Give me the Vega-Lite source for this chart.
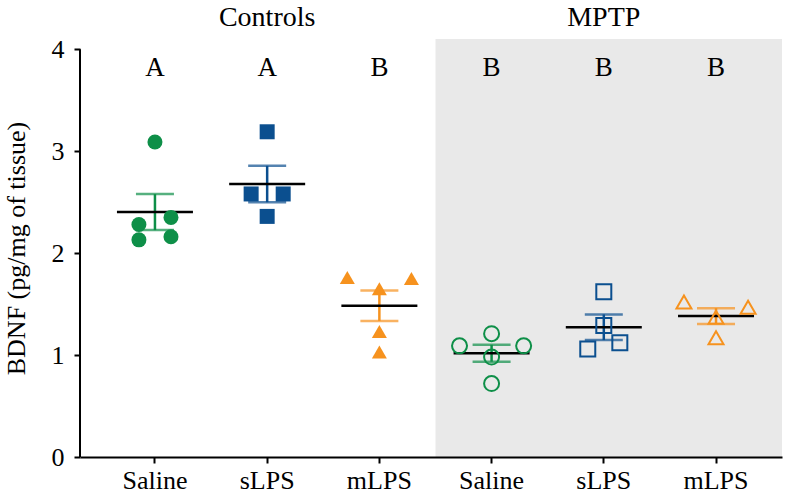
{
  "$schema": "https://vega.github.io/schema/vega-lite/v6.json",
  "width": 702,
  "height": 418,
  "autosize": {"type": "none"},
  "padding": {"left": 80, "top": 39, "right": 10, "bottom": 41},
  "background": "white",
  "config": {
    "view": {"stroke": null},
    "font": "Liberation Serif",
    "axis": {"labelFont": "Liberation Serif", "titleFont": "Liberation Serif", "labelColor": "black", "titleColor": "black", "grid": false}
  },
  "datasets": {
    "points": [
      {"grp": "Controls Saline", "group": "Controls", "treatment": "Saline", "lane": "C", "bdnf": 3.09},
      {"grp": "Controls Saline", "group": "Controls", "treatment": "Saline", "lane": "R1", "bdnf": 2.35},
      {"grp": "Controls Saline", "group": "Controls", "treatment": "Saline", "lane": "L1", "bdnf": 2.28},
      {"grp": "Controls Saline", "group": "Controls", "treatment": "Saline", "lane": "R1", "bdnf": 2.16},
      {"grp": "Controls Saline", "group": "Controls", "treatment": "Saline", "lane": "L1", "bdnf": 2.13},
      {"grp": "Controls sLPS", "group": "Controls", "treatment": "sLPS", "lane": "C", "bdnf": 3.19},
      {"grp": "Controls sLPS", "group": "Controls", "treatment": "sLPS", "lane": "L1", "bdnf": 2.58},
      {"grp": "Controls sLPS", "group": "Controls", "treatment": "sLPS", "lane": "R1", "bdnf": 2.58},
      {"grp": "Controls sLPS", "group": "Controls", "treatment": "sLPS", "lane": "C", "bdnf": 2.36},
      {"grp": "Controls mLPS", "group": "Controls", "treatment": "mLPS", "lane": "L2", "bdnf": 1.76},
      {"grp": "Controls mLPS", "group": "Controls", "treatment": "mLPS", "lane": "R2", "bdnf": 1.75},
      {"grp": "Controls mLPS", "group": "Controls", "treatment": "mLPS", "lane": "C", "bdnf": 1.65},
      {"grp": "Controls mLPS", "group": "Controls", "treatment": "mLPS", "lane": "C", "bdnf": 1.23},
      {"grp": "Controls mLPS", "group": "Controls", "treatment": "mLPS", "lane": "C", "bdnf": 1.03},
      {"grp": "MPTP Saline", "group": "MPTP", "treatment": "Saline", "lane": "L2", "bdnf": 1.09},
      {"grp": "MPTP Saline", "group": "MPTP", "treatment": "Saline", "lane": "C", "bdnf": 1.21},
      {"grp": "MPTP Saline", "group": "MPTP", "treatment": "Saline", "lane": "R2", "bdnf": 1.09},
      {"grp": "MPTP Saline", "group": "MPTP", "treatment": "Saline", "lane": "C", "bdnf": 0.98},
      {"grp": "MPTP Saline", "group": "MPTP", "treatment": "Saline", "lane": "C", "bdnf": 0.72},
      {"grp": "MPTP sLPS", "group": "MPTP", "treatment": "sLPS", "lane": "C", "bdnf": 1.62},
      {"grp": "MPTP sLPS", "group": "MPTP", "treatment": "sLPS", "lane": "C", "bdnf": 1.29},
      {"grp": "MPTP sLPS", "group": "MPTP", "treatment": "sLPS", "lane": "L1", "bdnf": 1.06},
      {"grp": "MPTP sLPS", "group": "MPTP", "treatment": "sLPS", "lane": "R1", "bdnf": 1.12},
      {"grp": "MPTP mLPS", "group": "MPTP", "treatment": "mLPS", "lane": "L2", "bdnf": 1.52},
      {"grp": "MPTP mLPS", "group": "MPTP", "treatment": "mLPS", "lane": "R2", "bdnf": 1.47},
      {"grp": "MPTP mLPS", "group": "MPTP", "treatment": "mLPS", "lane": "C", "bdnf": 1.37},
      {"grp": "MPTP mLPS", "group": "MPTP", "treatment": "mLPS", "lane": "C", "bdnf": 1.17}
    ],
    "letters": [
      {"grp": "Controls Saline", "letter": "A"},
      {"grp": "Controls sLPS", "letter": "A"},
      {"grp": "Controls mLPS", "letter": "B"},
      {"grp": "MPTP Saline", "letter": "B"},
      {"grp": "MPTP sLPS", "letter": "B"},
      {"grp": "MPTP mLPS", "letter": "B"}
    ],
    "headers": [
      {"grp": "Controls sLPS", "label": "Controls"},
      {"grp": "MPTP sLPS", "label": "MPTP"}
    ]
  },
  "data": {"name": "points"},
  "encoding": {
    "x": {
      "field": "grp",
      "type": "nominal",
      "scale": {
        "type": "band",
        "domain": ["Controls Saline", "Controls sLPS", "Controls mLPS", "MPTP Saline", "MPTP sLPS", "MPTP mLPS"],
        "paddingInner": 0,
        "paddingOuter": 0.128,
        "align": 0.656
      },
      "axis": {
        "title": null,
        "labelExpr": "split(datum.value, ' ')[1]",
        "labelFontSize": 26,
        "labelAngle": 0,
        "labelPadding": 4,
        "tickSize": 6,
        "tickWidth": 2,
        "tickColor": "black",
        "domainColor": "black",
        "domainWidth": 2
      }
    }
  },
  "layer": [
    {
      "data": {"values": [{}]},
      "mark": {"type": "rect", "color": "#e9e9e9"},
      "encoding": {
        "x": {"datum": "MPTP Saline", "type": "nominal", "bandPosition": 0},
        "x2": {"value": "width"},
        "y": {"value": 0},
        "y2": {"value": "height"}
      }
    },
    {
      "data": {"values": [{}]},
      "mark": {"type": "rule", "color": "black", "strokeWidth": 2},
      "encoding": {
        "x": {"value": 0},
        "y": {"datum": 0, "type": "quantitative"},
        "y2": {"datum": 4}
      }
    },
    {
      "mark": {"type": "errorbar", "extent": "stderr", "thickness": 2.5, "ticks": {"size": 38, "thickness": 2.5}},
      "encoding": {
        "y": {
          "field": "bdnf",
          "type": "quantitative",
          "scale": {"domain": [0, 4.1], "nice": false},
          "axis": {
            "title": "BDNF (pg/mg of tissue)",
            "values": [0, 1, 2, 3, 4],
            "format": "d",
            "domain": false,
            "tickSize": 6,
            "tickWidth": 2,
            "tickColor": "black",
            "labelFontSize": 26,
            "labelPadding": 10,
            "titleFontSize": 26,
            "titleFontWeight": "normal",
            "titlePadding": 22
          }
        },
        "color": {
          "field": "treatment",
          "type": "nominal",
          "scale": {"domain": ["Saline", "sLPS", "mLPS"], "range": ["#0e8f48", "#0b4f8f", "#f6921e"]},
          "legend": null
        }
      }
    },
    {
      "mark": {"type": "tick", "color": "black", "thickness": 2.5, "size": 76},
      "encoding": {
        "y": {"aggregate": "mean", "field": "bdnf", "type": "quantitative"}
      }
    },
    {
      "transform": [{"filter": "datum.group === 'Controls'"}],
      "mark": {"type": "point", "filled": true, "opacity": 1},
      "encoding": {
        "xOffset": {"field": "lane", "type": "nominal", "scale": {"type": "point", "domain": ["edgeL", "L2", "L1", "C", "R1", "R2", "edgeR"]}},
        "y": {"field": "bdnf", "type": "quantitative"},
        "color": {"field": "treatment", "type": "nominal", "legend": null},
        "shape": {"field": "treatment", "type": "nominal", "scale": {"domain": ["Saline", "sLPS", "mLPS"], "range": ["circle", "square", "triangle-up"]}, "legend": null},
        "size": {"field": "treatment", "type": "nominal", "scale": {"domain": ["Saline", "sLPS", "mLPS"], "range": [225, 225, 330]}, "legend": null}
      }
    },
    {
      "transform": [{"filter": "datum.group === 'MPTP'"}],
      "mark": {"type": "point", "filled": false, "strokeWidth": 2, "opacity": 1},
      "encoding": {
        "xOffset": {"field": "lane", "type": "nominal"},
        "y": {"field": "bdnf", "type": "quantitative"},
        "color": {"field": "treatment", "type": "nominal", "legend": null},
        "shape": {"field": "treatment", "type": "nominal", "legend": null},
        "size": {"field": "treatment", "type": "nominal", "legend": null}
      }
    },
    {
      "data": {"name": "letters"},
      "mark": {"type": "text", "fontSize": 27, "baseline": "middle", "color": "black", "font": "Liberation Serif"},
      "encoding": {
        "y": {"datum": 3.82, "type": "quantitative"},
        "text": {"field": "letter"}
      }
    },
    {
      "data": {"name": "headers"},
      "mark": {"type": "text", "fontSize": 28, "baseline": "middle", "color": "black", "font": "Liberation Serif"},
      "encoding": {
        "y": {"datum": 4.31, "type": "quantitative"},
        "text": {"field": "label"}
      }
    }
  ]
}
